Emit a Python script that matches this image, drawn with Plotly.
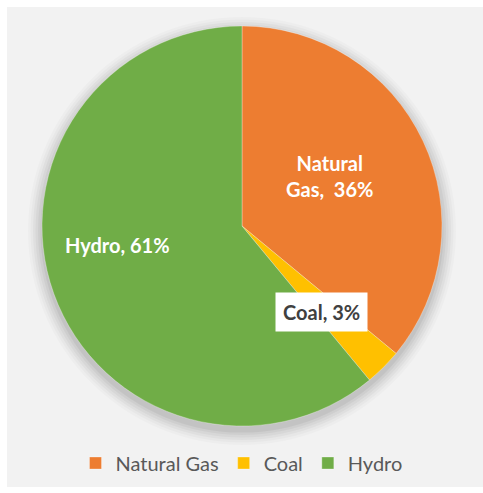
import plotly.graph_objects as go

labels = ["Natural Gas", "Coal", "Hydro"]
values = [36, 3, 61]
colors = ["#ED7D31", "#FFC000", "#70AD47"]

W, H = 483, 493
cx, cy, r = 242, 226, 200

fig = go.Figure()
fig.add_trace(go.Pie(
    labels=labels, values=values, sort=False, direction="clockwise", rotation=0,
    marker=dict(colors=colors, line=dict(color="rgba(255,255,255,0.6)", width=0.5)),
    textinfo="none", hoverinfo="label+percent",
    domain=dict(x=[(cx - r) / W, (cx + r) / W], y=[1 - (cy + r) / H, 1 - (cy - r) / H]),
))

shapes = [dict(type="rect", xref="paper", yref="paper", x0=7 / W, x1=1, y0=1 - 487 / H, y1=1 - 7 / H,
               fillcolor="#F2F2F2", line=dict(width=0), layer="below")]
# soft shadow
for i, a in enumerate([0.02, 0.025, 0.03, 0.035, 0.04, 0.05]):
    rr = r + 14 - i * 2.5
    shapes.append(dict(type="circle", xref="paper", yref="paper",
                       x0=(cx - rr) / W, x1=(cx + rr) / W,
                       y0=1 - (cy + 5 + rr) / H, y1=1 - (cy + 5 - rr) / H,
                       fillcolor=f"rgba(0,0,0,{a})", line=dict(width=0), layer="below"))

pcts = [f"{v}%" for v in values]
font = "Lato, 'Open Sans', sans-serif"
annotations = [
    dict(x=329 / W, y=1 - 176 / H, xref="paper", yref="paper", showarrow=False,
         xanchor="center", yanchor="middle",
         text=f"<b>Natural<br>Gas,  {pcts[0]}</b>", font=dict(family=font, size=20, color="white"),
         align="center"),
    dict(x=117 / W, y=1 - 245 / H, xref="paper", yref="paper", showarrow=False,
         xanchor="center", yanchor="middle",
         text=f"<b>{labels[2]}, {pcts[2]}</b>", font=dict(family=font, size=20, color="white")),
    dict(x=321 / W, y=1 - 312 / H, xref="paper", yref="paper", showarrow=False,
         xanchor="center", yanchor="middle",
         text=f"<b>{labels[1]}, {pcts[1]}</b>", font=dict(family=font, size=20, color="#404040"),
         bgcolor="white", borderpad=7),
]

fig.update_layout(
    width=W, height=H, margin=dict(l=0, r=0, t=0, b=0),
    paper_bgcolor="white", plot_bgcolor="white",
    shapes=shapes, annotations=annotations,
    showlegend=True,
    legend=dict(orientation="h", x=0.5, xanchor="center", y=1 - 463 / H, yanchor="middle",
                font=dict(family=font, size=20, color="#595959"), bgcolor="rgba(0,0,0,0)",
                itemwidth=30, traceorder="normal"),
)
fig.write_html("out.html")
